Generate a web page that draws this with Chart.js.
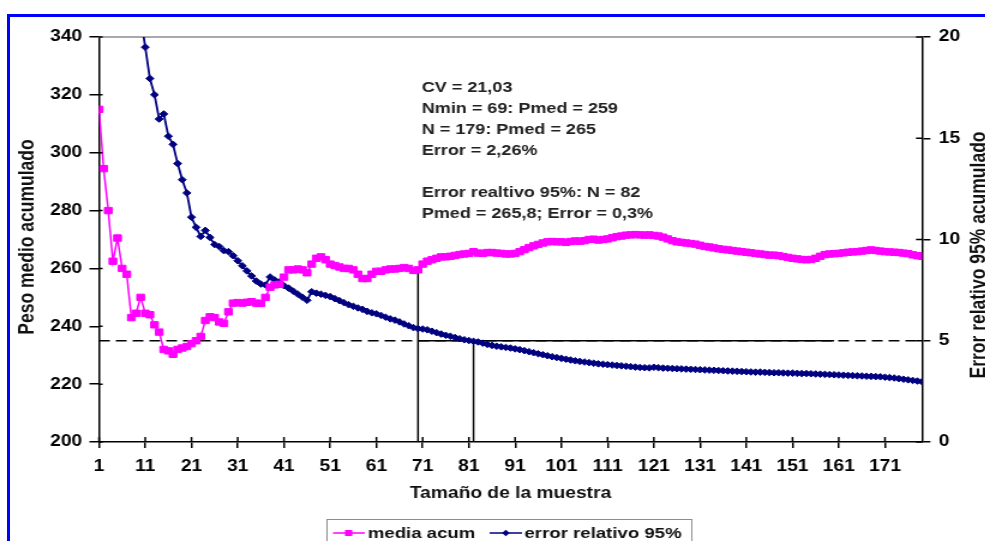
<!DOCTYPE html>
<html>
<head>
<meta charset="utf-8">
<script src="https://cdn.jsdelivr.net/npm/chart.js@4.4.0/dist/chart.umd.min.js"></script>
<style>
  html, body { margin: 0; padding: 0; background: #fff; overflow: hidden; }
  #frame { position: absolute; left: 7px; top: 14px; width: 1100px; height: 600px;
           border-top: 3px solid #0000ff; border-left: 3px solid #0000ff; }
  #wrap { position: absolute; left: 0; top: 0; width: 821px; height: 541px;
          transform: scaleX(1.2); transform-origin: 0 0; }
</style>
</head>
<body>
<div id="frame"></div>
<div id="wrap"><canvas id="chart" width="821" height="541" style="width:821px;height:541px"></canvas></div>
<script>
// sample sizes 1..179
const sizes = Array.from({ length: 179 }, (_, i) => i + 1);

// media acum (left axis)
const mediaAcum = [
  315, 294.5, 280, 262.5, 270.5, 260, 258, 243, 244.5, 250,
  244.5, 244, 240.5, 238, 232, 231.5, 230.3, 232, 232.5, 233,
  234, 235, 236.5, 242, 243.3, 243, 241.5, 241, 245, 248,
  248.2, 248, 248.3, 248.5, 248, 247.9, 250, 253.5, 254.3, 254.5,
  257, 259.5, 259.5, 259.8, 259.5, 258.5, 261.5, 263.5, 264, 263,
  261.5, 261, 260.5, 260, 260, 259.5, 258, 256.5, 256.5, 258,
  259, 259, 259.5, 259.8, 259.8, 260, 260.3, 260, 259.3, 259.5,
  261.5, 262.5, 263, 263.5, 264, 264, 264.2, 264.5, 264.8, 265,
  265.2, 265.8, 265.3, 265.2, 265.5, 265.5, 265.3, 265.2, 265, 265,
  265.2, 265.8, 266.5, 267.2, 267.8, 268.3, 268.8, 269.2, 269.3, 269.2,
  269.2, 269, 269.3, 269.5, 269.4, 269.6, 270, 270.1, 269.8, 270,
  270.2, 270.6, 271, 271.2, 271.5, 271.6, 271.7, 271.6, 271.5, 271.6,
  271.4, 271.2, 270.8, 270.2, 269.6, 269.2, 269, 268.8, 268.6, 268.4,
  268, 267.6, 267.4, 267.1, 266.8, 266.6, 266.4, 266.2, 266, 265.8,
  265.6, 265.4, 265.2, 265, 264.8, 264.6, 264.6, 264.4, 264.1, 263.8,
  263.5, 263.3, 263.1, 263, 263.1, 263.5, 264.2, 264.8, 265, 265.1,
  265.2, 265.4, 265.6, 265.7, 265.8, 266, 266.2, 266.4, 266.2, 266,
  265.8, 265.7, 265.6, 265.5, 265.3, 265.1, 264.7, 264.4, 264.2
];

// error relativo 95% (right axis), starts at n = 10
const errorRel = [
  null, null, null, null, null, null, null, null, null, 21.0,
  19.5, 17.95, 17.15, 15.95, 16.2, 15.1, 14.7, 13.75, 12.95, 12.3,
  11.1, 10.6, 10.15, 10.45, 10.1, 9.75, 9.65, 9.45, 9.4, 9.2,
  8.95, 8.7, 8.45, 8.2, 7.95, 7.8, 7.75, 8.15, 8.0, 7.9,
  7.72, 7.6, 7.45, 7.3, 7.15, 7.0, 7.42, 7.35, 7.3, 7.24,
  7.18, 7.08, 6.98, 6.88, 6.78, 6.7, 6.62, 6.55, 6.45, 6.38,
  6.33, 6.25, 6.16, 6.08, 6.02, 5.93, 5.83, 5.74, 5.65, 5.6,
  5.58, 5.54, 5.47, 5.4, 5.33, 5.27, 5.22, 5.16, 5.1, 5.05,
  5.01, 4.97, 4.94, 4.88, 4.82, 4.77, 4.73, 4.7, 4.67, 4.64,
  4.6, 4.56, 4.51, 4.46, 4.41, 4.36, 4.31, 4.26, 4.21, 4.17,
  4.13, 4.09, 4.05, 4.01, 3.98, 3.95, 3.92, 3.89, 3.86, 3.84,
  3.82, 3.8, 3.78, 3.76, 3.74, 3.72, 3.7, 3.68, 3.67, 3.66,
  3.69, 3.67, 3.65, 3.64, 3.63, 3.62, 3.61, 3.6, 3.59, 3.58,
  3.57, 3.56, 3.55, 3.54, 3.53, 3.52, 3.51, 3.5, 3.49, 3.48,
  3.47, 3.46, 3.45, 3.45, 3.44, 3.43, 3.42, 3.42, 3.41, 3.4,
  3.4, 3.39, 3.38, 3.38, 3.37, 3.36, 3.35, 3.34, 3.33, 3.32,
  3.31, 3.3, 3.29, 3.28, 3.27, 3.26, 3.25, 3.24, 3.23, 3.22,
  3.2, 3.18, 3.16, 3.13, 3.1, 3.07, 3.04, 3.01, 2.98
];

// tick labels
const xTickValues = [1, 11, 21, 31, 41, 51, 61, 71, 81, 91, 101, 111, 121, 131, 141, 151, 161, 171];
const leftTicks = [200, 220, 240, 260, 280, 300, 320, 340];
const rightTicks = [0, 5, 10, 15, 20];

// reference marks
const errLimit = 5;          // 5% dashed line
const nMin = 70;             // vertical line under the media curve
const nMinMedia = 259.5;
const nErr = 82;             // vertical line where error reaches 5%
const solidFrom = 70, solidTo = 160;

const notes = [
  'CV = 21,03',
  'Nmin = 69: Pmed = 259',
  'N = 179: Pmed = 265',
  'Error = 2,26%',
  '',
  'Error realtivo 95%: N = 82',
  'Pmed = 265,8; Error = 0,3%'
];

const FONT = '"Liberation Sans", Arial, sans-serif';
Chart.defaults.font.family = FONT;

const xy = (xs, ys) => xs.map((x, i) => ({ x: x, y: ys[i] }));

const decor = {
  id: 'decor',
  beforeDatasetsDraw(chart) {
    const { ctx, chartArea: a } = chart;
    ctx.save();
    ctx.strokeStyle = '#8c8c8c';
    ctx.lineWidth = 1.5;
    ctx.beginPath();
    ctx.moveTo(a.left, a.top);
    ctx.lineTo(a.right, a.top);
    ctx.stroke();
    ctx.restore();
  },
  afterDraw(chart) {
    const { ctx, chartArea: a, scales } = chart;
    ctx.save();
    // inner half of the crossing tick marks
    ctx.strokeStyle = '#000';
    ctx.lineWidth = 1.5;
    ctx.beginPath();
    scales.y.ticks.forEach(t => {
      const p = scales.y.getPixelForValue(t.value);
      ctx.moveTo(a.left, p); ctx.lineTo(a.left + 3, p);
    });
    scales.y1.ticks.forEach(t => {
      const p = scales.y1.getPixelForValue(t.value);
      ctx.moveTo(a.right, p); ctx.lineTo(a.right - 5, p);
    });
    scales.x.ticks.forEach(t => {
      const p = scales.x.getPixelForValue(t.value);
      ctx.moveTo(p, a.bottom); ctx.lineTo(p, a.bottom - 5);
    });
    ctx.stroke();

    // axis titles
    ctx.fillStyle = '#111';
    ctx.textAlign = 'center';
    ctx.textBaseline = 'middle';
    ctx.font = 'bold 16px ' + FONT;
    ctx.fillText('Tamaño de la muestra', (a.left + a.right) / 2, 494);
    ctx.font = 'bold 17.5px ' + FONT;
    ctx.save();
    ctx.translate(23.5, 237);
    ctx.rotate(-Math.PI / 2);
    ctx.fillText('Peso medio acumulado', 0, 0);
    ctx.restore();
    ctx.save();
    ctx.translate(816, 255);
    ctx.rotate(-Math.PI / 2);
    ctx.fillText('Error relativo 95% acumulado', 0, 0);
    ctx.restore();

    // text box
    ctx.font = 'bold 15px ' + FONT;
    ctx.fillStyle = '#222';
    ctx.textAlign = 'left';
    ctx.textBaseline = 'alphabetic';
    notes.forEach((s, i) => ctx.fillText(s, 351.5, 92 + i * 21));

    // legend
    ctx.strokeStyle = '#8c8c8c';
    ctx.lineWidth = 1;
    ctx.strokeRect(272.5, 519.5, 304, 40);
    const ly = 533;
    ctx.lineWidth = 1.5;
    ctx.strokeStyle = '#ff00ff';
    ctx.beginPath(); ctx.moveTo(277.5, ly); ctx.lineTo(304, ly); ctx.stroke();
    ctx.fillStyle = '#ff00ff';
    ctx.fillRect(287.5, ly - 3, 6, 6);
    ctx.strokeStyle = '#000080';
    ctx.beginPath(); ctx.moveTo(408, ly); ctx.lineTo(435, ly); ctx.stroke();
    ctx.fillStyle = '#000080';
    ctx.beginPath();
    ctx.moveTo(421.5, ly - 3.2); ctx.lineTo(424.7, ly); ctx.lineTo(421.5, ly + 3.2); ctx.lineTo(418.3, ly);
    ctx.closePath(); ctx.fill();
    ctx.fillStyle = '#111';
    ctx.font = 'bold 15.5px ' + FONT;
    ctx.textBaseline = 'middle';
    ctx.fillText('media acum', 306.5, ly + 1);
    ctx.fillText('error relativo 95%', 437, ly + 1);
    ctx.restore();
  }
};

const tickFont = { size: 16, weight: 'bold', family: FONT };

new Chart(document.getElementById('chart'), {
  type: 'line',
  data: {
    datasets: [
      {
        label: 'media acum',
        data: xy(sizes, mediaAcum),
        yAxisID: 'y',
        borderColor: '#ff00ff',
        backgroundColor: '#ff00ff',
        borderWidth: 1.5,
        pointStyle: 'rect',
        pointRadius: 4.5,
        pointBorderWidth: 1,
        tension: 0
      },
      {
        label: 'error relativo 95%',
        data: xy(sizes, errorRel),
        yAxisID: 'y1',
        borderColor: '#000080',
        backgroundColor: '#000080',
        borderWidth: 1.8,
        pointStyle: 'rectRot',
        pointRadius: 3.3,
        pointBorderWidth: 1,
        tension: 0
      },
      {
        data: [{ x: sizes[0], y: errLimit }, { x: sizes[sizes.length - 1], y: errLimit }],
        yAxisID: 'y1',
        borderColor: '#000',
        borderWidth: 1.5,
        borderDash: [9, 5],
        pointRadius: 0
      },
      {
        data: [{ x: solidFrom, y: errLimit }, { x: solidTo, y: errLimit }],
        yAxisID: 'y1',
        borderColor: '#000',
        borderWidth: 1.5,
        pointRadius: 0
      },
      {
        data: [{ x: nMin, y: leftTicks[0] }, { x: nMin, y: nMinMedia }],
        yAxisID: 'y',
        borderColor: '#000',
        borderWidth: 1.5,
        pointRadius: 0
      },
      {
        data: [{ x: nErr, y: rightTicks[0] }, { x: nErr, y: errLimit }],
        yAxisID: 'y1',
        borderColor: '#000',
        borderWidth: 1.5,
        pointRadius: 0
      }
    ]
  },
  options: {
    responsive: false,
    devicePixelRatio: 1,
    animation: false,
    layout: { padding: { top: 37, left: 0, right: 0, bottom: 0 } },
    plugins: { legend: { display: false }, tooltip: { enabled: false } },
    scales: {
      x: {
        type: 'linear',
        min: sizes[0],
        max: sizes[sizes.length - 1],
        afterBuildTicks: s => { s.ticks = xTickValues.map(v => ({ value: v })); },
        afterFit: s => { s.height = 99; s.paddingLeft = 0; s.paddingRight = 0; },
        ticks: { font: tickFont, color: '#000', padding: 9, maxRotation: 0, autoSkip: false },
        grid: { drawOnChartArea: false, tickLength: 6, color: '#000', lineWidth: 1.5 },
        border: { display: true, color: '#000', width: 1.5 }
      },
      y: {
        position: 'left',
        min: leftTicks[0],
        max: leftTicks[leftTicks.length - 1],
        afterBuildTicks: s => { s.ticks = leftTicks.map(v => ({ value: v })); },
        afterFit: s => { s.width = 82.5; s.paddingTop = 0; s.paddingBottom = 0; },
        ticks: { font: tickFont, color: '#000', padding: 6 },
        grid: { drawOnChartArea: false, tickLength: 8, color: '#000', lineWidth: 1.5 },
        border: { display: true, color: '#000', width: 1.5 }
      },
      y1: {
        position: 'right',
        min: rightTicks[0],
        max: rightTicks[rightTicks.length - 1],
        afterBuildTicks: s => { s.ticks = rightTicks.map(v => ({ value: v })); },
        afterFit: s => { s.width = 52.7; s.paddingTop = 0; s.paddingBottom = 0; },
        ticks: { font: tickFont, color: '#000', padding: 7 },
        grid: { drawOnChartArea: false, tickLength: 7, color: '#000', lineWidth: 1.5 },
        border: { display: true, color: '#000', width: 1.5 }
      }
    }
  },
  plugins: [decor]
});
</script>
</body>
</html>
